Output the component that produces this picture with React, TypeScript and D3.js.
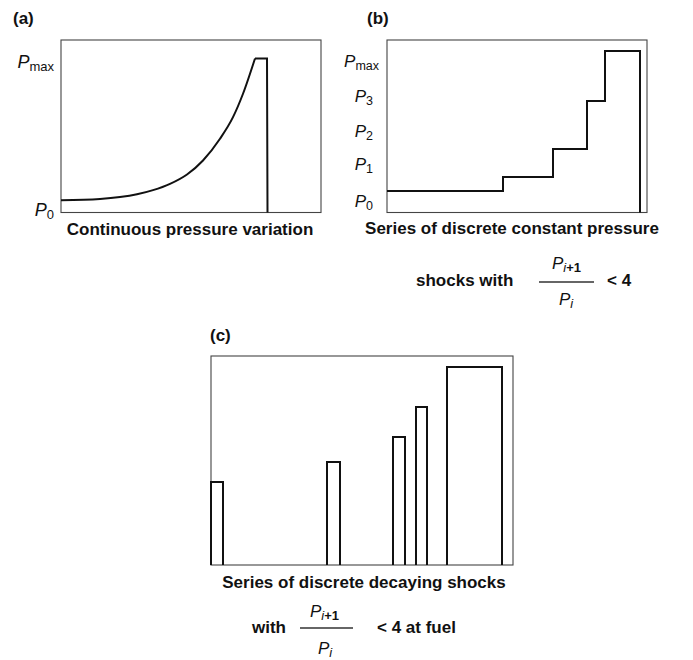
import React from "react";
import * as d3 from "d3";

// Panel (a): continuous pressure rise (t in arbitrary time units, p normalised P0..Pmax)
const riseT = [0, 39, 59, 76, 92, 109, 126, 142, 159, 172, 182, 194];
const riseP = [0.08, 0.088, 0.1, 0.118, 0.145, 0.186, 0.247, 0.338, 0.479, 0.619, 0.771, 1.0];
const tailT = [194, 206, 206.5];
const tailP = [1.0, 1.0, 0.0];
const labelsA = ["max", "0"];
const labelPosA = [0.938, -0.023];

// Panel (b): discrete constant pressure shocks
const stepT = [0, 116, 166, 200, 218, 253];
const stepP = [0.14, 0.231, 0.412, 0.724, 1.049, 0.0];
const labelsB = ["max", "3", "2", "1", "0"];
const labelPosB = [0.944, 0.717, 0.49, 0.276, 0.036];

// Panel (c): discrete decaying shocks
const barStart = [0, 116, 182, 205, 236];
const barEnd = [12, 129, 194, 216, 291];
const barHeight = [0.539, 0.669, 0.831, 1.026, 1.286];

const FONT = "'Liberation Sans', Arial, Helvetica, sans-serif";

export default function App() {
  const xA = d3.scaleLinear().domain([0, 260]).range([61, 321]);
  const yA = d3.scaleLinear().domain([0, 1]).range([212.5, 58.5]);
  const xB = d3.scaleLinear().domain([0, 260]).range([387, 647]);
  const yB = d3.scaleLinear().domain([0, 1]).range([212.5, 58.5]);
  const xC = d3.scaleLinear().domain([0, 302]).range([211, 513]);
  const yC = d3.scaleLinear().domain([0, 1]).range([565, 411]);

  const riseLine = d3
    .line<number>()
    .x((_, i) => xA(riseT[i]))
    .y((d) => yA(d))
    .curve(d3.curveMonotoneX)(riseP) as string;
  const tailLine = d3
    .line<number>()
    .x((_, i) => xA(tailT[i]))
    .y((d) => yA(d))(tailP) as string;
  const stepLine = d3
    .line<number>()
    .x((_, i) => xB(stepT[i]))
    .y((d) => yB(d))
    .curve(d3.curveStepAfter)(stepP) as string;

  const frame = { fill: "none", stroke: "#444", strokeWidth: 1.1 };
  const data = { fill: "none", stroke: "#111", strokeWidth: 2, strokeLinejoin: "miter" as const };
  const txt = { fontFamily: FONT, fontWeight: "bold" as const, fill: "#111" };

  return (
    <svg width={693} height={660} style={{ position: "absolute", left: 0, top: 0, background: "#fff" }}>
      <rect x={0} y={0} width={693} height={660} fill="#fff" />
      {/* Panel (a) */}
      <text x={13} y={24} fontSize={17} {...txt}>(a)</text>
      <rect x={xA(0)} y={40} width={xA(260) - xA(0)} height={yA(0) - 40} {...frame} />
      <path d={riseLine} {...data} />
      <path d={tailLine} {...data} />
      {labelsA.map((s, i) => (
        <text key={s} x={54} y={yA(labelPosA[i])} textAnchor="end" fontFamily={FONT} fill="#111">
          <tspan fontSize={18} fontStyle="italic">P</tspan>
          <tspan fontSize={13} dy={3}>{s}</tspan>
        </text>
      ))}
      <text x={190} y={235} fontSize={17} textAnchor="middle" {...txt}>Continuous pressure variation</text>

      {/* Panel (b) */}
      <text x={367} y={24} fontSize={17} {...txt}>(b)</text>
      <rect x={xB(0)} y={40} width={xB(260) - xB(0)} height={yB(0) - 40} {...frame} />
      <path d={stepLine} {...data} />
      {labelsB.map((s, i) => (
        <text key={s} x={s === "max" ? 379 : 373} y={yB(labelPosB[i])} textAnchor="end" fontFamily={FONT} fill="#111">
          <tspan fontSize={17} fontStyle="italic">P</tspan>
          <tspan fontSize={12.5} dy={3}>{s}</tspan>
        </text>
      ))}
      <text x={512} y={234} fontSize={17} textAnchor="middle" {...txt}>Series of discrete constant pressure</text>
      <text x={416} y={286} fontSize={17} {...txt}>shocks with</text>
      <text x={552} y={269} fontFamily={FONT} fill="#111">
        <tspan fontSize={17} fontStyle="italic">P</tspan>
        <tspan fontSize={13} dy={3} fontStyle="italic">i</tspan>
        <tspan fontSize={13} fontWeight="bold">+1</tspan>
      </text>
      <line x1={539} x2={594} y1={282} y2={282} stroke="#333" strokeWidth={1.3} />
      <text x={559} y={305} fontFamily={FONT} fill="#111">
        <tspan fontSize={17} fontStyle="italic">P</tspan>
        <tspan fontSize={13} dy={3} fontStyle="italic">i</tspan>
      </text>
      <text x={607} y={286} fontSize={17} {...txt}>&lt; 4</text>

      {/* Panel (c) */}
      <text x={210} y={341} fontSize={17} {...txt}>(c)</text>
      <rect x={xC(0)} y={356} width={xC(302) - xC(0)} height={yC(0) - 356} {...frame} />
      {barHeight.map((h, i) => (
        <path
          key={i}
          d={`M${xC(barStart[i])},${yC(0)}V${yC(h)}H${xC(barEnd[i])}V${yC(0)}`}
          {...data}
        />
      ))}
      <text x={364} y={588} fontSize={17} textAnchor="middle" {...txt}>Series of discrete decaying shocks</text>
      <text x={252} y={633} fontSize={17} {...txt}>with</text>
      <text x={310} y={617} fontFamily={FONT} fill="#111">
        <tspan fontSize={17} fontStyle="italic">P</tspan>
        <tspan fontSize={13} dy={3} fontStyle="italic">i</tspan>
        <tspan fontSize={13} fontWeight="bold">+1</tspan>
      </text>
      <line x1={300} x2={353} y1={628} y2={628} stroke="#333" strokeWidth={1.3} />
      <text x={318} y={654} fontFamily={FONT} fill="#111">
        <tspan fontSize={17} fontStyle="italic">P</tspan>
        <tspan fontSize={13} dy={3} fontStyle="italic">i</tspan>
      </text>
      <text x={377} y={633} fontSize={17} {...txt}>&lt; 4 at fuel</text>
    </svg>
  );
}
